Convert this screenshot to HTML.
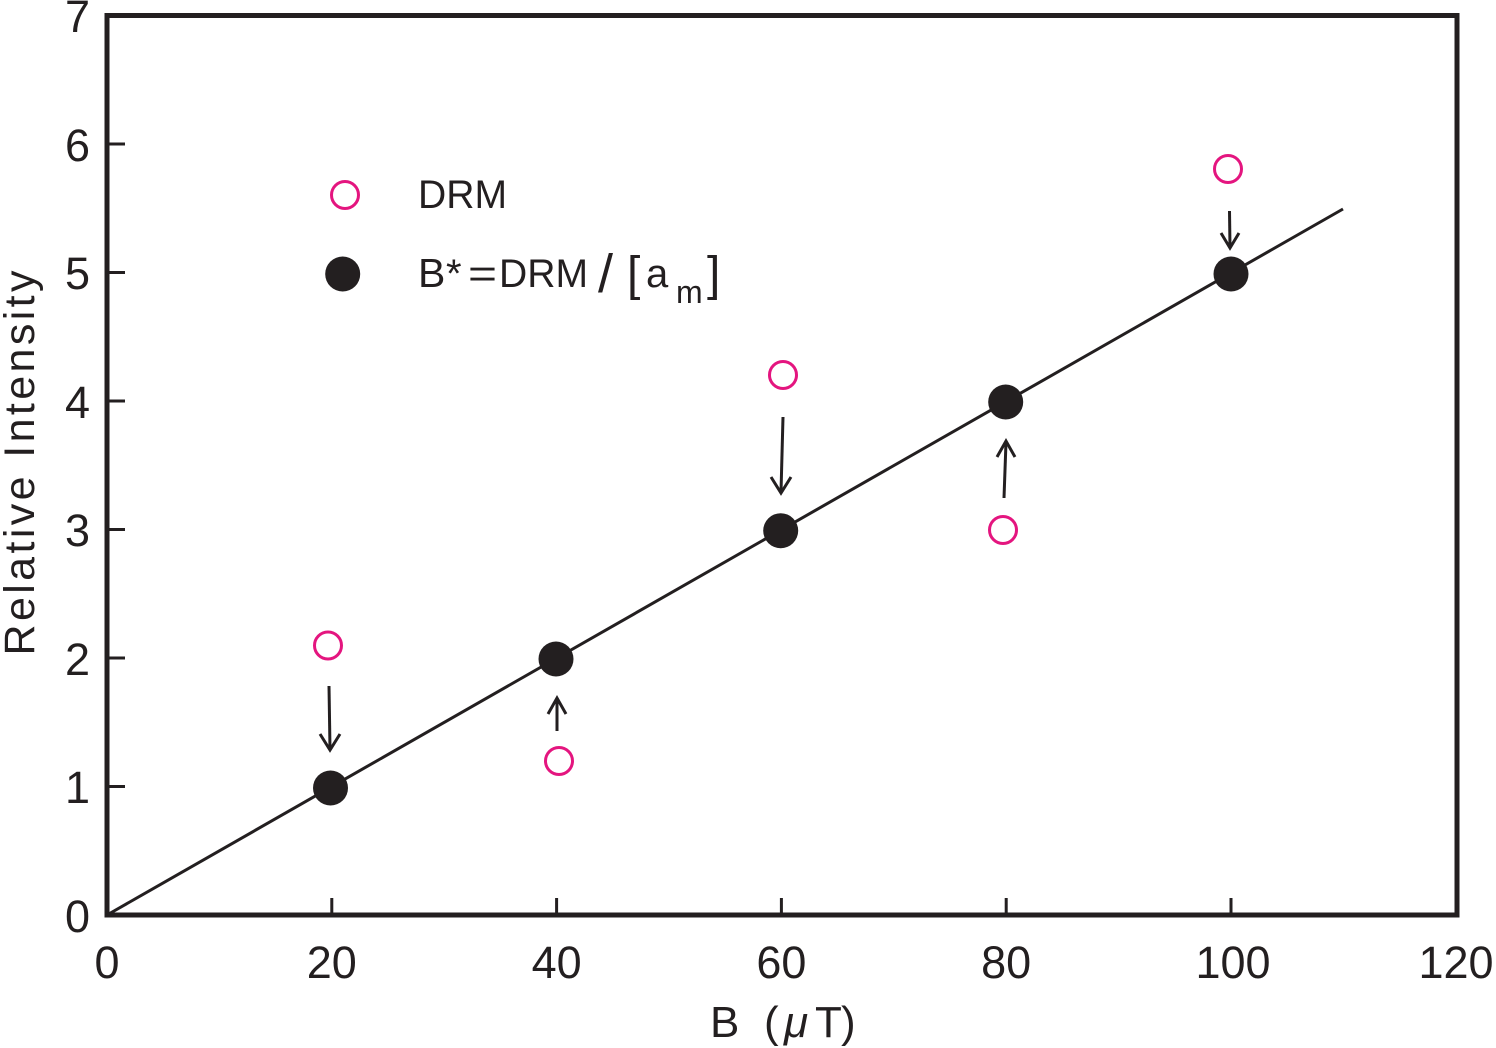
<!DOCTYPE html>
<html>
<head>
<meta charset="utf-8">
<style>
html,body{margin:0;padding:0;background:#fff;}
svg{display:block;}
text{font-family:"Liberation Sans",sans-serif;fill:#231f20;}
</style>
</head>
<body>
<svg width="1496" height="1048" viewBox="0 0 1496 1048" xmlns="http://www.w3.org/2000/svg">
  <!-- frame -->
  <rect x="107" y="15.5" width="1350" height="899.5" fill="none" stroke="#231f20" stroke-width="5"/>
  <!-- x ticks -->
  <g stroke="#231f20" stroke-width="3">
    <line x1="331.8" y1="915" x2="331.8" y2="898"/>
    <line x1="556.6" y1="915" x2="556.6" y2="898"/>
    <line x1="781.4" y1="915" x2="781.4" y2="898"/>
    <line x1="1006.2" y1="915" x2="1006.2" y2="898"/>
    <line x1="1231" y1="915" x2="1231" y2="898"/>
    <!-- y ticks -->
    <line x1="107" y1="786.5" x2="125" y2="786.5"/>
    <line x1="107" y1="658" x2="125" y2="658"/>
    <line x1="107" y1="529.5" x2="125" y2="529.5"/>
    <line x1="107" y1="401" x2="125" y2="401"/>
    <line x1="107" y1="272.5" x2="125" y2="272.5"/>
    <line x1="107" y1="144" x2="125" y2="144"/>
  </g>
  <!-- fit line -->
  <line x1="107" y1="915" x2="1343" y2="209" stroke="#231f20" stroke-width="3"/>

  <!-- x tick labels -->
  <g font-size="45" text-anchor="middle">
    <text x="107" y="978">0</text>
    <text x="331.8" y="978">20</text>
    <text x="556.6" y="978">40</text>
    <text x="781.4" y="978">60</text>
    <text x="1006.2" y="978">80</text>
    <text x="1233" y="978">100</text>
    <text x="1456" y="978">120</text>
  </g>
  <!-- y tick labels -->
  <g font-size="45" text-anchor="end">
    <text x="90" y="932">0</text>
    <text x="90" y="803">1</text>
    <text x="90" y="675">2</text>
    <text x="90" y="546">3</text>
    <text x="90" y="418">4</text>
    <text x="90" y="289">5</text>
    <text x="90" y="161">6</text>
    <text x="90" y="32">7</text>
  </g>

  <!-- axis titles -->
  <text x="710" y="1037" font-size="44">B</text>
  <text x="764" y="1037" font-size="44">(</text>
  <text x="784" y="1037" font-size="44" font-style="italic">μ</text>
  <text x="815" y="1037" font-size="44">T</text>
  <text x="841" y="1037" font-size="44">)</text>

  <text x="0" y="0" font-size="43" text-anchor="middle" textLength="385" lengthAdjust="spacing" transform="translate(34,463) rotate(-90)">Relative  Intensity</text>

  <!-- arrows -->
  <g stroke="#231f20" stroke-width="3" fill="none" stroke-linecap="butt">
    <line x1="329" y1="686" x2="330" y2="749"/>
    <polyline points="320,734 330,750 340,734"/>
    <line x1="557" y1="731" x2="557" y2="699"/>
    <polyline points="548,714 557,698 566,714"/>
    <line x1="783" y1="417" x2="781" y2="492"/>
    <polyline points="771,477 781,493 791,477"/>
    <line x1="1004" y1="498" x2="1006" y2="442"/>
    <polyline points="997,457 1006,441 1015,457"/>
    <line x1="1229.5" y1="211" x2="1230" y2="247"/>
    <polyline points="1221,233 1230,248 1239,233"/>
  </g>

  <!-- open circles (DRM) -->
  <g fill="none" stroke="#e4157f" stroke-width="3">
    <circle cx="328" cy="645.5" r="13.5"/>
    <circle cx="559" cy="761" r="13.5"/>
    <circle cx="783" cy="375" r="13.5"/>
    <circle cx="1003" cy="530" r="13.5"/>
    <circle cx="1228" cy="169" r="13.5"/>
    <circle cx="345" cy="195" r="13.5"/>
  </g>
  <!-- filled circles -->
  <g fill="#231f20">
    <circle cx="330.5" cy="788" r="17.5"/>
    <circle cx="556" cy="659" r="17.5"/>
    <circle cx="780.7" cy="530.7" r="17.5"/>
    <circle cx="1005.7" cy="402" r="17.5"/>
    <circle cx="1231" cy="274" r="17.5"/>
    <circle cx="342.7" cy="274" r="17.5"/>
  </g>

  <!-- legend text -->
  <text x="418" y="208" font-size="40" textLength="89" lengthAdjust="spacingAndGlyphs">DRM</text>
  <text x="418" y="287" font-size="41">B</text>
  <text x="446" y="287" font-size="40">*</text>
  <text x="468" y="287" font-size="40" textLength="29" lengthAdjust="spacingAndGlyphs">=</text>
  <text x="499" y="287" font-size="40" textLength="89" lengthAdjust="spacingAndGlyphs">DRM</text>
  <text x="598" y="292" font-size="54">/</text>
  <text x="627" y="290" font-size="48">[</text>
  <text x="646" y="287" font-size="40">a</text>
  <text x="676" y="303" font-size="32">m</text>
  <text x="707" y="290" font-size="48">]</text>
</svg>
</body>
</html>
